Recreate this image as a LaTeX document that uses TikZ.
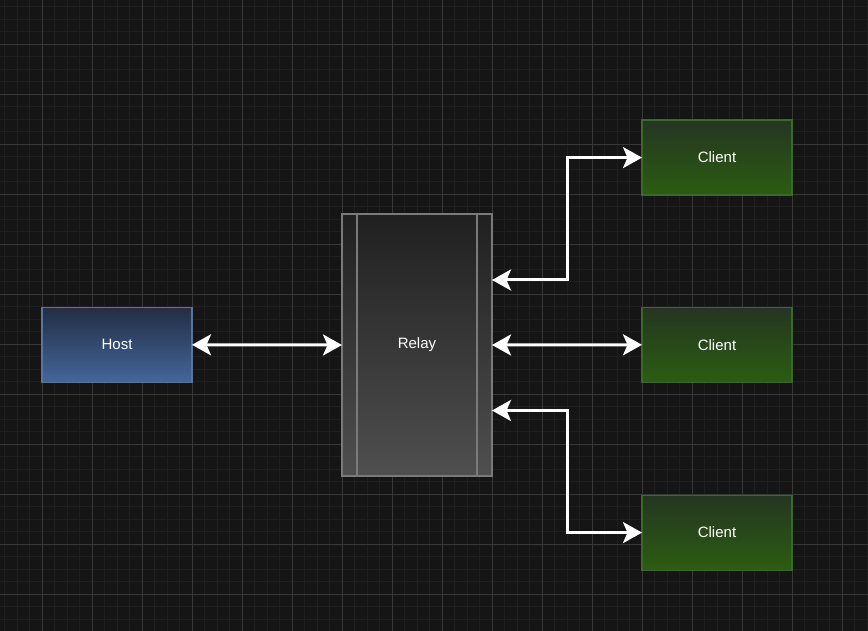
\documentclass[tikz,border=0pt]{standalone}
\usepackage{fontspec}
\setmainfont{Liberation Sans}
\usetikzlibrary{arrows.meta}
\definecolor{bg}{HTML}{151515}
\definecolor{gridminor}{HTML}{1F1F1F}
\definecolor{gridmajor}{HTML}{383838}
\definecolor{hosttop}{HTML}{222E44}
\definecolor{hostbot}{HTML}{44669A}
\definecolor{hostline}{HTML}{56759F}
\definecolor{clienttop}{HTML}{253522}
\definecolor{clientbot}{HTML}{2B5D11}
\definecolor{clientline}{HTML}{3A6A25}
\definecolor{relaytop}{HTML}{202020}
\definecolor{relaybot}{HTML}{4F4F4F}
\definecolor{relayline}{HTML}{7A7A7A}
\tikzset{
  x=1pt, y=1pt,
  box/.style={rectangle, inner sep=0pt, outer sep=0pt, line width=1.2pt,
    text=white, font=\fontsize{15}{18}\selectfont,
    minimum width=150pt, minimum height=75pt},
  hostbox/.style={box, draw=hostline, top color=hosttop, bottom color=hostbot},
  clientbox/.style={box, draw=clientline, top color=clienttop, bottom color=clientbot},
  relaybox/.style={box, draw=relayline, top color=relaytop, bottom color=relaybot, minimum height=262pt},
  tip/.style={Stealth[length=19pt,width=21pt,inset=4.5pt]},
  link/.style={draw=white, line width=3pt, {Stealth[length=19pt,width=21pt,inset=4.5pt]}-{Stealth[length=19pt,width=21pt,inset=4.5pt]}}
}
\begin{document}
\begin{tikzpicture}
\fill[bg] (0,0) rectangle (868,-631);
\useasboundingbox (0,0) rectangle (868,-631);
% minor grid
\foreach \i in {-3,...,66} {
  \draw[gridminor, line width=1pt] ({42.3+12.5*\i},0) -- ({42.3+12.5*\i},-631);
}
\foreach \j in {-3,...,47} {
  \draw[gridminor, line width=1pt] (0,{-44.3-12.5*\j}) -- (868,{-44.3-12.5*\j});
}
% major grid
\foreach \i in {0,...,16} {
  \draw[gridmajor, line width=1pt] ({42.3+50*\i},0) -- ({42.3+50*\i},-631);
}
\foreach \j in {0,...,11} {
  \draw[gridmajor, line width=1pt] (0,{-44.3-50*\j}) -- (868,{-44.3-50*\j});
}
% nodes
\node[hostbox] (host) at (117,-344.8) {Host};
\node[relaybox] (relay) at (417,-345) {Relay};
\draw[relayline, line width=1.2pt] ([xshift=15pt]relay.north west) -- ([xshift=15pt]relay.south west);
\draw[relayline, line width=1.2pt] ([xshift=-15pt]relay.north east) -- ([xshift=-15pt]relay.south east);
\node[clientbox] (c1) at (717,-157.6) {Client};
\node[clientbox] (c2) at (717,-344.8) {Client};
\node[clientbox] (c3) at (717,-532.6) {Client};
% connectors
\draw[link] (host.east) -- (relay.west);
\draw[link] (relay.east) -- (c2.west);
\draw[link] ([yshift=65pt]relay.east) -- ++(75pt,0) |- (c1.west);
\draw[link] ([yshift=-65.5pt]relay.east) -- ++(75pt,0) |- (c3.west);
\end{tikzpicture}
\end{document}
